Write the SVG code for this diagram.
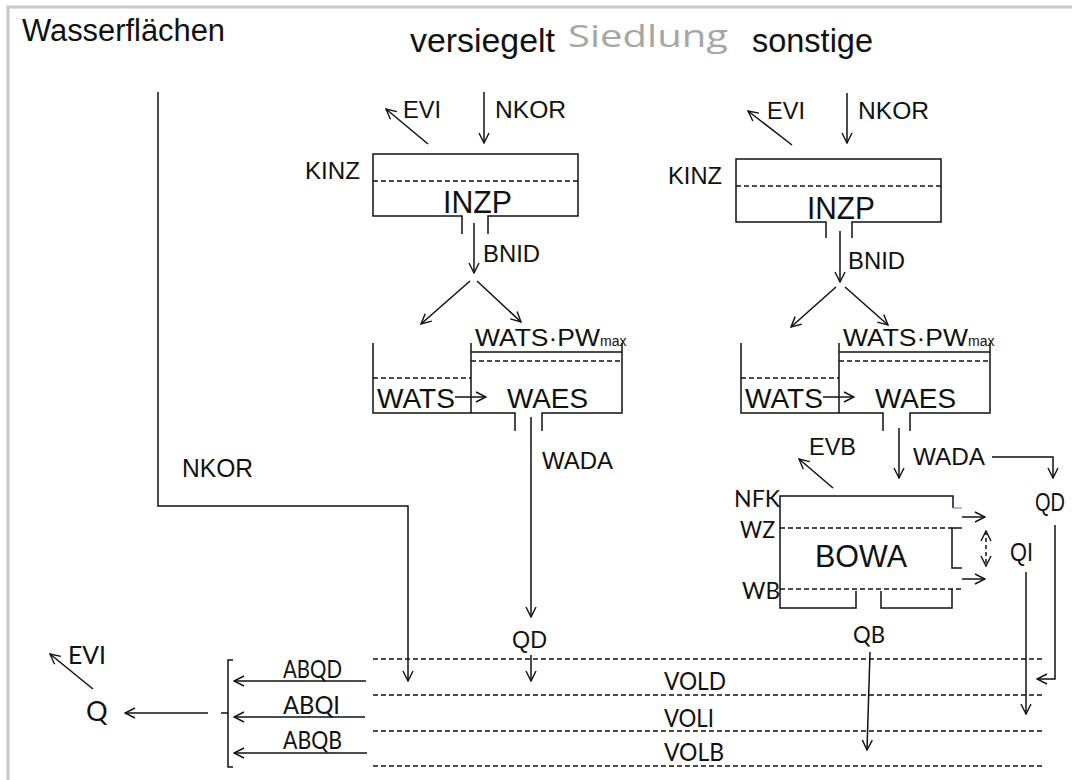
<svg xmlns="http://www.w3.org/2000/svg" width="1072" height="780" viewBox="0 0 1072 780">
<defs>
<marker id="a" viewBox="0 0 12 12" refX="11" refY="6" markerWidth="12" markerHeight="12" markerUnits="userSpaceOnUse" orient="auto-start-reverse"><path d="M1,1 L11,6 L1,11" fill="none" stroke="#111" stroke-width="1.4"/></marker>
<style>
.l{stroke:#111;stroke-width:1.5;fill:none}
.d{stroke:#111;stroke-width:1.5;fill:none;stroke-dasharray:5 3}
.ar{marker-end:url(#a)}
text{font-family:"Liberation Sans",Arial,sans-serif;fill:#111}
.c{font-family:Lato,"Open Sans",sans-serif}
.t{font-size:33px}
.s{font-size:23px}
.m{font-size:25px}
.b{font-size:31px}
.w{font-size:28px}
</style>
</defs>
<rect x="8" y="7" width="1100" height="800" fill="#fff" stroke="#c8c8c8" stroke-width="3"/>

<g id="headers">
<text x="22" y="41" style="font-size:31px" textLength="203" lengthAdjust="spacingAndGlyphs">Wasserflächen</text>
<text x="410" y="52" class="t" textLength="145" lengthAdjust="spacingAndGlyphs">versiegelt</text>
<text x="568" y="47" style="font-family:'Open Sans',sans-serif;font-size:31px;fill:#a6a6a6" textLength="160" lengthAdjust="spacingAndGlyphs">Siedlung</text>
<text x="752" y="52" class="t" textLength="121" lengthAdjust="spacingAndGlyphs">sonstige</text>
</g>

<g id="wasser">
<text x="182" y="477" class="m" textLength="71" lengthAdjust="spacingAndGlyphs">NKOR</text>
</g>

<g id="inzp-v">
<path class="l" d="M462,234 L462,216 L373,216 L373,154 L578,154 L578,216 L488,216 L488,234"/>
<path class="d" d="M373,181 L578,181"/>
<text x="443" y="213" class="b" textLength="69" lengthAdjust="spacingAndGlyphs">INZP</text>
<text x="305" y="179" class="s" textLength="55" lengthAdjust="spacingAndGlyphs">KINZ</text>
<text x="403" y="118" class="s" textLength="38" lengthAdjust="spacingAndGlyphs">EVI</text>
<text x="495" y="118" class="s" textLength="71" lengthAdjust="spacingAndGlyphs">NKOR</text>
<text x="483" y="262" class="s" textLength="57" lengthAdjust="spacingAndGlyphs">BNID</text>
</g>

<g id="tank-v">
<path class="l" d="M373,343 L373,413 L515,413 L515,431 M542,431 L542,413 L622,413 L622,343 M471,343 L471,413 M471,352 L622,352"/>
<path class="d" d="M471,361 L622,361 M373,378 L471,378"/>
<text x="475" y="346" class="s" textLength="125" lengthAdjust="spacingAndGlyphs">WATS·PW</text>
<text x="600" y="346" style="font-size:14px">max</text>
<text x="377" y="408" class="w" textLength="78" lengthAdjust="spacingAndGlyphs">WATS</text>
<text x="507" y="408" class="w" textLength="81" lengthAdjust="spacingAndGlyphs">WAES</text>
<text x="542" y="469" class="s" textLength="71" lengthAdjust="spacingAndGlyphs">WADA</text>
<text x="512" y="648" class="s" textLength="35" lengthAdjust="spacingAndGlyphs">QD</text>
</g>

<g id="inzp-s">
<path class="l" d="M826,238 L826,222 L736,222 L736,159 L941,159 L941,222 L852,222 L852,238"/>
<path class="d" d="M736,186 L941,186"/>
<text x="807" y="219" class="b" textLength="68" lengthAdjust="spacingAndGlyphs">INZP</text>
<text x="668" y="184" class="s" textLength="54" lengthAdjust="spacingAndGlyphs">KINZ</text>
<text x="767" y="119" class="s" textLength="38" lengthAdjust="spacingAndGlyphs">EVI</text>
<text x="858" y="119" class="s" textLength="71" lengthAdjust="spacingAndGlyphs">NKOR</text>
<text x="848" y="269" class="s" textLength="57" lengthAdjust="spacingAndGlyphs">BNID</text>
</g>

<g id="tank-s">
<path class="l" d="M741,343 L741,413 L883,413 L883,431 M910,431 L910,413 L990,413 L990,343 M839,343 L839,413 M839,352 L990,352"/>
<path class="d" d="M839,361 L990,361 M741,378 L839,378"/>
<text x="843" y="346" class="s" textLength="125" lengthAdjust="spacingAndGlyphs">WATS·PW</text>
<text x="968" y="346" style="font-size:14px">max</text>
<text x="745" y="408" class="w" textLength="78" lengthAdjust="spacingAndGlyphs">WATS</text>
<text x="875" y="408" class="w" textLength="81" lengthAdjust="spacingAndGlyphs">WAES</text>
<text x="913" y="465" class="s" textLength="72" lengthAdjust="spacingAndGlyphs">WADA</text>
<text x="809" y="455" class="s" textLength="47" lengthAdjust="spacingAndGlyphs">EVB</text>
<text x="1035" y="511" class="m" textLength="30" lengthAdjust="spacingAndGlyphs">QD</text>
<text x="1010" y="561" class="m" textLength="23" lengthAdjust="spacingAndGlyphs">QI</text>
</g>

<g id="bowa">
<path class="l" d="M953,508 L953,496 L780,496 L780,608 L856,608 L856,591 M881,591 L881,608 L952,608 L952,589"/>
<path d="M953,508 L962,508" stroke="#5b9bd5" stroke-width="1.2"/>
<path class="d" d="M780,528 L952,528 M780,589 L962,589"/>
<path class="l" d="M962,528 L952,528 L952,568 L962,568"/>
<text x="815" y="567" style="font-size:32px" textLength="92" lengthAdjust="spacingAndGlyphs">BOWA</text>
<text x="734" y="507" class="c s" textLength="46" lengthAdjust="spacingAndGlyphs">NFK</text>
<text x="740" y="538" class="c s" textLength="35" lengthAdjust="spacingAndGlyphs">WZ</text>
<text x="742" y="599" class="c s" textLength="38" lengthAdjust="spacingAndGlyphs">WB</text>
<text x="853" y="643" class="c s" textLength="32" lengthAdjust="spacingAndGlyphs">QB</text>
</g>

<g id="volumes">
<path class="d" d="M373,659 L1043,659 M373,695 L1043,695 M373,731 L1043,731 M373,766 L1043,766"/>
<text x="664" y="690" class="c m" textLength="62" lengthAdjust="spacingAndGlyphs">VOLD</text>
<text x="664" y="727" class="c m" textLength="50" lengthAdjust="spacingAndGlyphs">VOLI</text>
<text x="664" y="761" class="c m" textLength="60" lengthAdjust="spacingAndGlyphs">VOLB</text>
<text x="283" y="678" class="c m" textLength="59" lengthAdjust="spacingAndGlyphs">ABQD</text>
<text x="283" y="714" class="c m" textLength="57" lengthAdjust="spacingAndGlyphs">ABQI</text>
<text x="283" y="749" class="c m" textLength="59" lengthAdjust="spacingAndGlyphs">ABQB</text>
</g>

<g id="outlet">
<path class="l" d="M233,660 L228,660 L228,767 L233,767 M221,713 L228,713"/>
<text x="86" y="721" class="c" style="font-size:27px">Q</text>
<text x="68" y="664" class="c m" textLength="38" lengthAdjust="spacingAndGlyphs">EVI</text>
</g>

<g id="connectors">
<path class="l ar" d="M158,92 L158,506 L408,506 L408,681"/>
<path class="l ar" d="M428,144 L386,109"/>
<path class="l ar" d="M484,92 L484,143"/>
<path class="l ar" d="M474,223 L474,273"/>
<path class="l ar" d="M470,281 L421,324"/>
<path class="l ar" d="M477,281 L521,322"/>
<path class="l ar" d="M455,397 L486,397"/>
<path class="l ar" d="M531,417 L531,617"/>
<path class="l ar" d="M531,655 L531,681"/>
<path class="l ar" d="M792,145 L748,111"/>
<path class="l ar" d="M847,93 L847,143"/>
<path class="l ar" d="M840,231 L840,282"/>
<path class="l ar" d="M836,287 L791,327"/>
<path class="l ar" d="M845,287 L888,325"/>
<path class="l ar" d="M823,397 L854,397"/>
<path class="l ar" d="M899,428 L899,478"/>
<path class="l ar" d="M992,457 L1053,457 L1053,478"/>
<path class="l ar" d="M833,488 L799,459"/>
<path class="l ar" d="M962,517 L985,517"/>
<path class="l ar" d="M962,579 L985,579"/>
<path class="l ar" d="M986,531 L986,566" stroke-dasharray="4 3" marker-start="url(#a)"/>
<path class="l ar" d="M1055,525 L1055,679 L1037,679"/>
<path class="l ar" d="M1026,572 L1026,714"/>
<path class="l ar" d="M870,652 L867,750"/>
<path class="l ar" d="M208,713 L125,713"/>
<path class="l ar" d="M366,681 L234,681"/>
<path class="l ar" d="M365,717 L234,717"/>
<path class="l ar" d="M367,753 L234,753"/>
<path class="l ar" d="M93,689 L50,654"/>
</g>
</svg>
